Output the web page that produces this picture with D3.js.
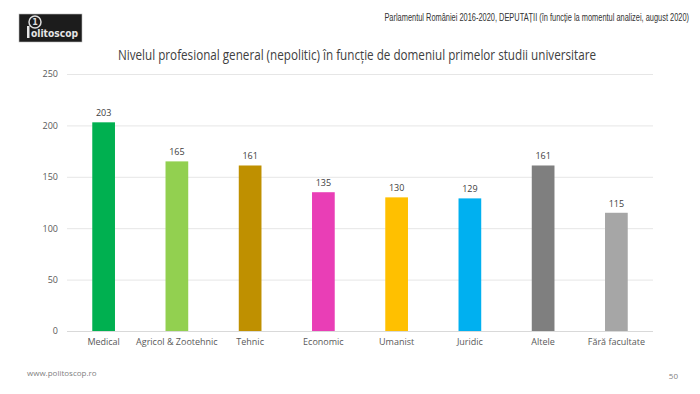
<!DOCTYPE html>
<html>
<head>
<meta charset="utf-8">
<script src="https://cdn.jsdelivr.net/npm/d3@7"></script>
<style>
  html, body { margin: 0; padding: 0; background: #fff; }
  svg { display: block; }
</style>
</head>
<body>
<svg id="chart" width="700" height="394"></svg>
<script>
const categories = ["Medical", "Agricol & Zootehnic", "Tehnic", "Economic", "Umanist", "Juridic", "Altele", "Fără facultate"];
const values = [203, 165, 161, 135, 130, 129, 161, 115];
const colors = ["#00B050", "#92D050", "#BF9000", "#E93EB6", "#FFC000", "#00B0F0", "#7F7F7F", "#A6A6A6"];
const yTicks = [0, 50, 100, 150, 200, 250];

(function () {
const svg = d3.select("#chart");
const mLeft = 67, mRight = 653, mTop = 74, mBottom = 331;

const x = d3.scaleBand().domain(categories).range([mLeft, mRight]).paddingInner(0.69).paddingOuter(0.345);
const y = d3.scaleLinear().domain([0, 250]).range([mBottom, mTop]);

// header (scaled horizontally to mimic a narrow font)
const hg = svg.append("g");
const ht = hg.append("text").attr("x", 0).attr("y", 0).attr("text-anchor", "end")
  .attr("font-family", "Liberation Sans Narrow, Liberation Sans, Arial, sans-serif")
  .attr("font-size", 10).attr("fill", "#333")
  .text("Parlamentul României 2016-2020, DEPUTAȚII (în funcție la momentul analizei, august 2020)");
const hLen = ht.node().getComputedTextLength();
const hScale = Math.min(1, 305 / hLen);
hg.attr("transform", `translate(689,21) scale(${hScale},1)`);

// logo
const logo = svg.append("g");
logo.append("rect").attr("x", 19).attr("y", 14).attr("width", 63).attr("height", 28).attr("fill", "#1c1c1c").attr("stroke", "#bbb").attr("stroke-width", 0.6);
logo.append("circle").attr("cx", 35).attr("cy", 22).attr("r", 6).attr("fill", "none").attr("stroke", "#ddd").attr("stroke-width", 1.5);
logo.append("text").attr("x", 35).attr("y", 25).attr("text-anchor", "middle").attr("font-size", 8).attr("font-weight", "bold").attr("fill", "#ddd").attr("font-family", "DejaVu Sans").text("1");
logo.append("text").attr("x", 31).attr("y", 37).attr("font-family", "DejaVu Sans, sans-serif").attr("font-size", 10).attr("font-weight", "bold").attr("fill", "#e6e6e6")
  .attr("textLength", 47).attr("lengthAdjust", "spacingAndGlyphs").text("olitoscop");
logo.append("rect").attr("x", 27).attr("y", 26).attr("width", 2.5).attr("height", 12).attr("fill", "#e6e6e6");

// title
svg.append("text").attr("x", 357).attr("y", 60).attr("text-anchor", "middle")
  .attr("font-family", "Open Sans, Lato, sans-serif").attr("font-size", 14).attr("fill", "#404040")
  .attr("textLength", 478).attr("lengthAdjust", "spacingAndGlyphs")
  .text("Nivelul profesional general (nepolitic) în funcție de domeniul primelor studii universitare");

// gridlines
svg.append("g").selectAll("line").data(yTicks.filter(d => d > 0)).join("line")
  .attr("x1", mLeft).attr("x2", mRight).attr("y1", d => y(d) + 0.5).attr("y2", d => y(d) + 0.5)
  .attr("stroke", "#e6e6e6").attr("stroke-width", 1);

// y axis labels
const yAxis = d3.axisLeft(y).tickValues(yTicks).tickSize(0).tickPadding(8);
const ya = svg.append("g").attr("transform", `translate(${mLeft - 1},0)`).call(yAxis);
ya.select(".domain").remove();
ya.selectAll("text").attr("font-family", "Open Sans, Lato, sans-serif").attr("font-size", 9).attr("fill", "#595959");

// bars
svg.append("g").selectAll("rect").data(values).join("rect")
  .attr("x", (d, i) => x(categories[i])).attr("width", x.bandwidth())
  .attr("y", d => y(d)).attr("height", d => y(0) - y(d))
  .attr("fill", (d, i) => colors[i]);

// value labels
svg.append("g").selectAll("text").data(values).join("text")
  .attr("x", (d, i) => x(categories[i]) + x.bandwidth() / 2).attr("y", d => y(d) - 6)
  .attr("text-anchor", "middle").attr("font-family", "Open Sans, Lato, sans-serif").attr("font-size", 9).attr("fill", "#404040")
  .text(d => d);

// x axis
const xAxis = d3.axisBottom(x).tickSize(0).tickPadding(8);
const xa = svg.append("g").attr("transform", `translate(0,${mBottom})`).call(xAxis);
xa.select(".domain").attr("stroke", "#d9d9d9").attr("d", `M${mLeft},0.5H${mRight}`);
xa.selectAll("text").attr("font-family", "Open Sans, Lato, sans-serif").attr("font-size", 9).attr("fill", "#595959");

// footer
svg.append("text").attr("x", 27).attr("y", 376).attr("font-family", "Open Sans, Lato, sans-serif").attr("font-size", 8).attr("fill", "#7f7f7f").text("www.politoscop.ro");
svg.append("text").attr("x", 678).attr("y", 379).attr("text-anchor", "end").attr("font-family", "Open Sans, Lato, sans-serif").attr("font-size", 8).attr("fill", "#7f7f7f").text("50");
})();
</script>
</body>
</html>
